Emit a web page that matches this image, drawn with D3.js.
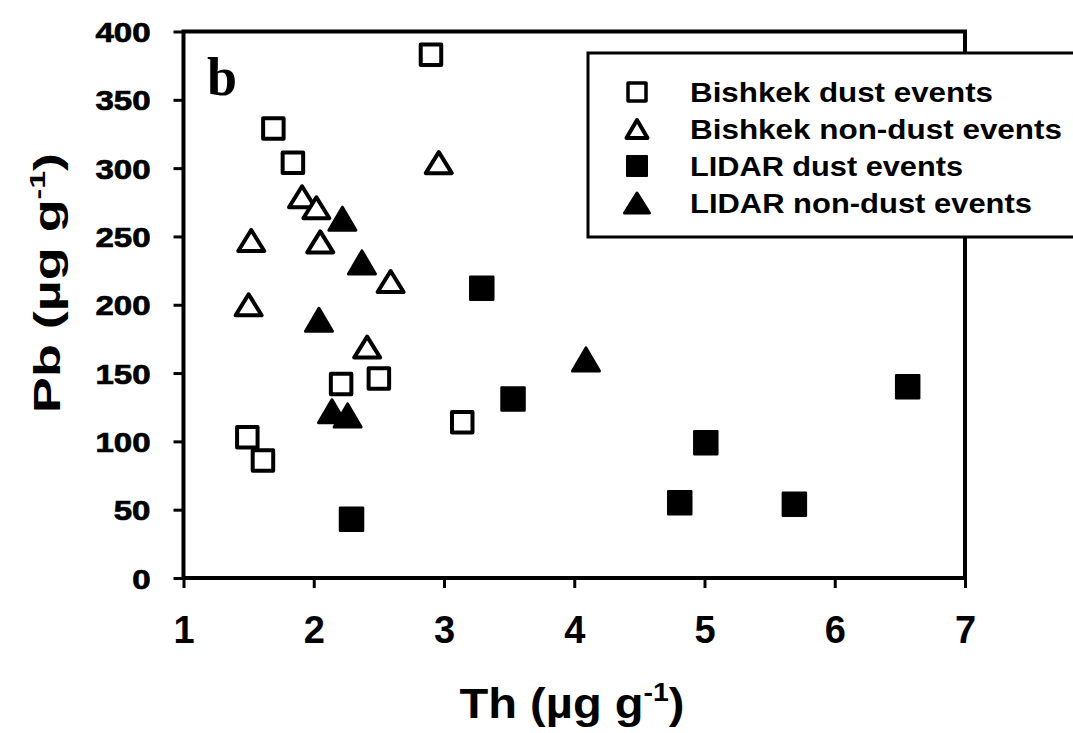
<!DOCTYPE html>
<html><head><meta charset="utf-8">
<script src="https://cdn.jsdelivr.net/npm/d3@7"></script>
<style>body{margin:0;background:#fff;}svg{display:block;}</style>
</head><body>
<svg id="c" width="1073" height="733"></svg>
<script>
// ---- data ----
const xTicks = [1, 2, 3, 4, 5, 6, 7];
const yTicks = [0, 50, 100, 150, 200, 250, 300, 350, 400];
const seriesNames = ["Bishkek dust events", "Bishkek non-dust events", "LIDAR dust events", "LIDAR non-dust events"];
const bishkekDustTh = [2.90, 1.69, 1.84, 2.21, 2.50, 1.49, 1.61, 3.14];
const bishkekDustPb = [383, 329, 304, 142, 146, 103, 86, 114];
const bishkekNonDustTh = [2.96, 1.91, 2.02, 1.52, 2.05, 2.59, 1.50, 2.41];
const bishkekNonDustPb = [304, 279, 271, 247, 246, 217, 200, 169];
const lidarDustTh = [3.29, 3.53, 2.29, 5.01, 4.81, 5.69, 6.56];
const lidarDustPb = [212, 131, 43, 99, 55, 54, 140];
const lidarNonDustTh = [2.22, 2.37, 2.04, 2.14, 2.26, 4.09];
const lidarNonDustPb = [263, 231, 189, 122, 119, 160];

const svg = d3.select("#c");
const L = 183.5, R = 965, T = 31.5, B = 578;
const x = d3.scaleLinear().domain([1, 7]).range([L, R]);
const y = d3.scaleLinear().domain([0, 400]).range([B, T]);
const font = "'Liberation Sans', Arial, sans-serif";

// frame
svg.append("rect").attr("x", L).attr("y", T).attr("width", R - L).attr("height", B - T)
  .attr("fill", "none").attr("stroke", "#000").attr("stroke-width", 4);

// y axis
const ya = svg.append("g").attr("transform", `translate(${L},0)`)
  .call(d3.axisLeft(y).tickValues(yTicks).tickFormat(d3.format("d")).tickSize(10).tickSizeOuter(0));
ya.select(".domain").remove();
ya.selectAll(".tick line").attr("stroke", "#000").attr("stroke-width", 3);
ya.selectAll(".tick text").attr("x", 0).attr("dy", "0.36em")
  .attr("transform", "translate(-33,0) scale(1.18,1)")
  .attr("font-family", font).attr("font-weight", "bold").attr("font-size", 28).attr("fill", "#000")
  .attr("stroke", "#000").attr("stroke-width", 0.7);

// x axis
const xa = svg.append("g").attr("transform", `translate(0,${B})`)
  .call(d3.axisBottom(x).tickValues(xTicks).tickFormat(d3.format("d")).tickSize(10).tickSizeOuter(0));
xa.select(".domain").remove();
xa.selectAll(".tick line").attr("stroke", "#000").attr("stroke-width", 3);
xa.selectAll(".tick text").attr("y", 65).attr("dy", 0)
  .attr("font-family", font).attr("font-weight", "bold").attr("font-size", 38).attr("fill", "#000");

// axis titles
const xt = svg.append("text").attr("x", 572).attr("y", 718).attr("text-anchor", "middle")
  .attr("font-family", font).attr("font-weight", "bold").attr("font-size", 43)
  .attr("textLength", 225).attr("lengthAdjust", "spacingAndGlyphs");
xt.append("tspan").text("Th (\u00b5g g");
xt.append("tspan").attr("font-size", 26).attr("dy", -17).text("-1");
xt.append("tspan").attr("dy", 17).text(")");

const yt = svg.append("text").attr("transform", "translate(60,283) rotate(-90)").attr("text-anchor", "middle")
  .attr("font-family", font).attr("font-weight", "bold").attr("font-size", 37)
  .attr("textLength", 260).attr("lengthAdjust", "spacingAndGlyphs");
yt.append("tspan").text("Pb (\u00b5g g");
yt.append("tspan").attr("font-size", 22).attr("dy", -15).text("-1");
yt.append("tspan").attr("dy", 15).text(")");

// panel letter
svg.append("text").attr("x", 207).attr("y", 95).text("b")
  .attr("font-family", "'Liberation Serif', 'Times New Roman', serif").attr("font-weight", "bold").attr("font-size", 54);

// marker drawing
function tri(w, h) { return `M0,${-h/2}L${w/2},${h/2}L${-w/2},${h/2}Z`; }
function sq(s) { return `M${-s/2},${-s/2}h${s}v${s}h${-s}Z`; }
const styles = [
  { d: sq(20.5), fill: "#fff", sw: 4 },
  { d: tri(26, 21), fill: "#fff", sw: 4 },
  { d: sq(23), fill: "#000", sw: 2.5 },
  { d: tri(27, 23), fill: "#000", sw: 3 }
];
const lstyles = [
  { d: sq(18), fill: "#fff", sw: 3.5 },
  { d: tri(21, 18), fill: "#fff", sw: 4 },
  { d: sq(20), fill: "#000", sw: 2 },
  { d: tri(25, 20), fill: "#000", sw: 3 }
];
const series = [
  [bishkekDustTh, bishkekDustPb],
  [bishkekNonDustTh, bishkekNonDustPb],
  [lidarDustTh, lidarDustPb],
  [lidarNonDustTh, lidarNonDustPb]
];
series.forEach(([xs, ys], i) => {
  const st = styles[i];
  svg.append("g").selectAll("path").data(xs.map((v, j) => [v, ys[j]])).join("path")
    .attr("d", st.d).attr("transform", d => `translate(${x(d[0])},${y(d[1])})`)
    .attr("fill", st.fill).attr("stroke", "#000").attr("stroke-width", st.sw)
    .attr("stroke-linejoin", "round");
});

// legend
const lg = svg.append("g");
lg.append("rect").attr("x", 588).attr("y", 53).attr("width", 500).attr("height", 184)
  .attr("fill", "#fff").attr("stroke", "#000").attr("stroke-width", 3);
const legY = [102, 139, 176, 213];
const legW = [303, 372, 273, 342];
seriesNames.forEach((n, i) => {
  const st = lstyles[i];
  lg.append("path").attr("d", st.d).attr("transform", `translate(637,${legY[i] - 10})`)
    .attr("fill", st.fill).attr("stroke", "#000").attr("stroke-width", st.sw).attr("stroke-linejoin", "round");
  lg.append("text").attr("x", 690).attr("y", legY[i]).text(n)
    .attr("font-family", font).attr("font-weight", "bold").attr("font-size", 27)
    .attr("textLength", legW[i]).attr("lengthAdjust", "spacingAndGlyphs");
});
</script>
</body></html>
